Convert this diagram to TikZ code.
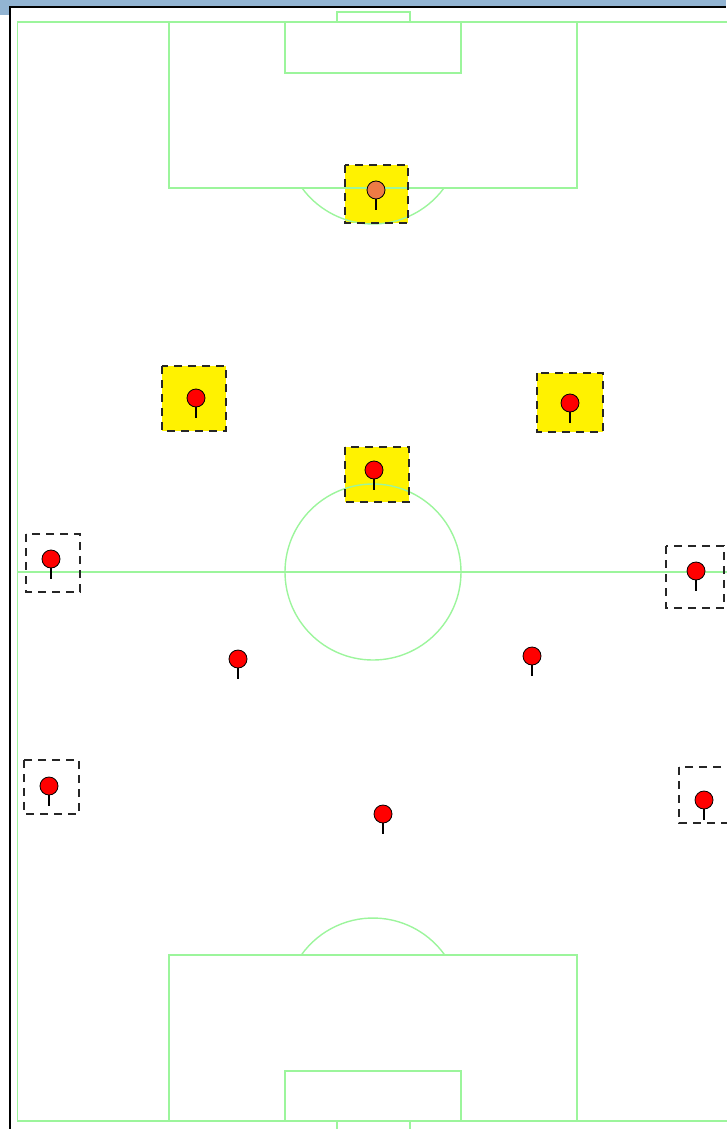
\documentclass[tikz,border=0pt]{standalone}
\definecolor{pitch}{HTML}{9CF59C}
\definecolor{titlebar}{HTML}{92B4D2}
\definecolor{keeper}{HTML}{EE7B45}

\begin{document}
\begin{tikzpicture}[x=1pt,y=-1pt,
		line/.style={pitch,line width=1.4pt},
		zone/.style={draw=black!85,line width=1.4pt,dash pattern=on 8pt off 6pt},
		head/.style={circle,draw=black,line width=0.8pt,fill=red,inner sep=0pt,minimum size=18pt}]
	
	\useasboundingbox (0,0) rectangle (726,1129);
	
	% window frame
	\fill[titlebar] (0,0) rectangle (726,6);
	\fill[titlebar] (0,0) rectangle (9,15);
	\draw[black,line width=2.2pt] (10,1129) -- (10,7) -- (726,7);
	
	% marked zones
	\foreach \a/\b/\c/\d in {345/165/408/223,162/366/226/431,537/373/603/432,345/447/409/502}
	{
		\fill[yellow] (\a,\b) rectangle (\c,\d);
	}
	
	% pitch
	{
		\draw[line] (17.5,22) rectangle (728.5,1121);
		\draw[line] (17.5,572) -- (728.5,572);
		\draw[line] (373,572) circle[radius=88];
		
		\draw[line] (169,22) rectangle (577,188);
		\draw[line] (285,22) rectangle (461,73);
		\draw[line] (337,12) rectangle (410,22);
		\draw[line] (373,136) ++(36.2:88) arc[start angle=36.2,end angle=143.8,radius=88];
		
		\draw[line] (169,955) rectangle (577,1121);
		\draw[line] (285,1071) rectangle (461,1121);
		\draw[line] (337,1121) rectangle (410,1132);
		\draw[line] (373,1006) ++(215.4:88) arc[start angle=215.4,end angle=324.6,radius=88];
	}
	
	\foreach \a/\b/\c/\d in {345/165/408/223,162/366/226/431,537/373/603/432,345/447/409/502,
		26/534/80/592,666/546/724/608,24/760/79/814,679/767/735/823}
	{
		\draw[zone] (\a,\b) rectangle (\c,\d);
	}
	
	% players
	\node[head,fill=keeper] (keeper) at (376,190) {};
	\draw[line width=1.3pt] (keeper.south) -- ++(0,11);
	
	\foreach \x/\y [count=\n] in {196/398,570/403,374/470,51/559,696/571,238/659,532/656,49/786,383/814,704/800}
	{
		\node[head] (pin\n) at (\x,\y) {};
		\draw[line width=1.3pt] (pin\n.south) -- ++(0,11);
	}
	
\end{tikzpicture}
\end{document}
